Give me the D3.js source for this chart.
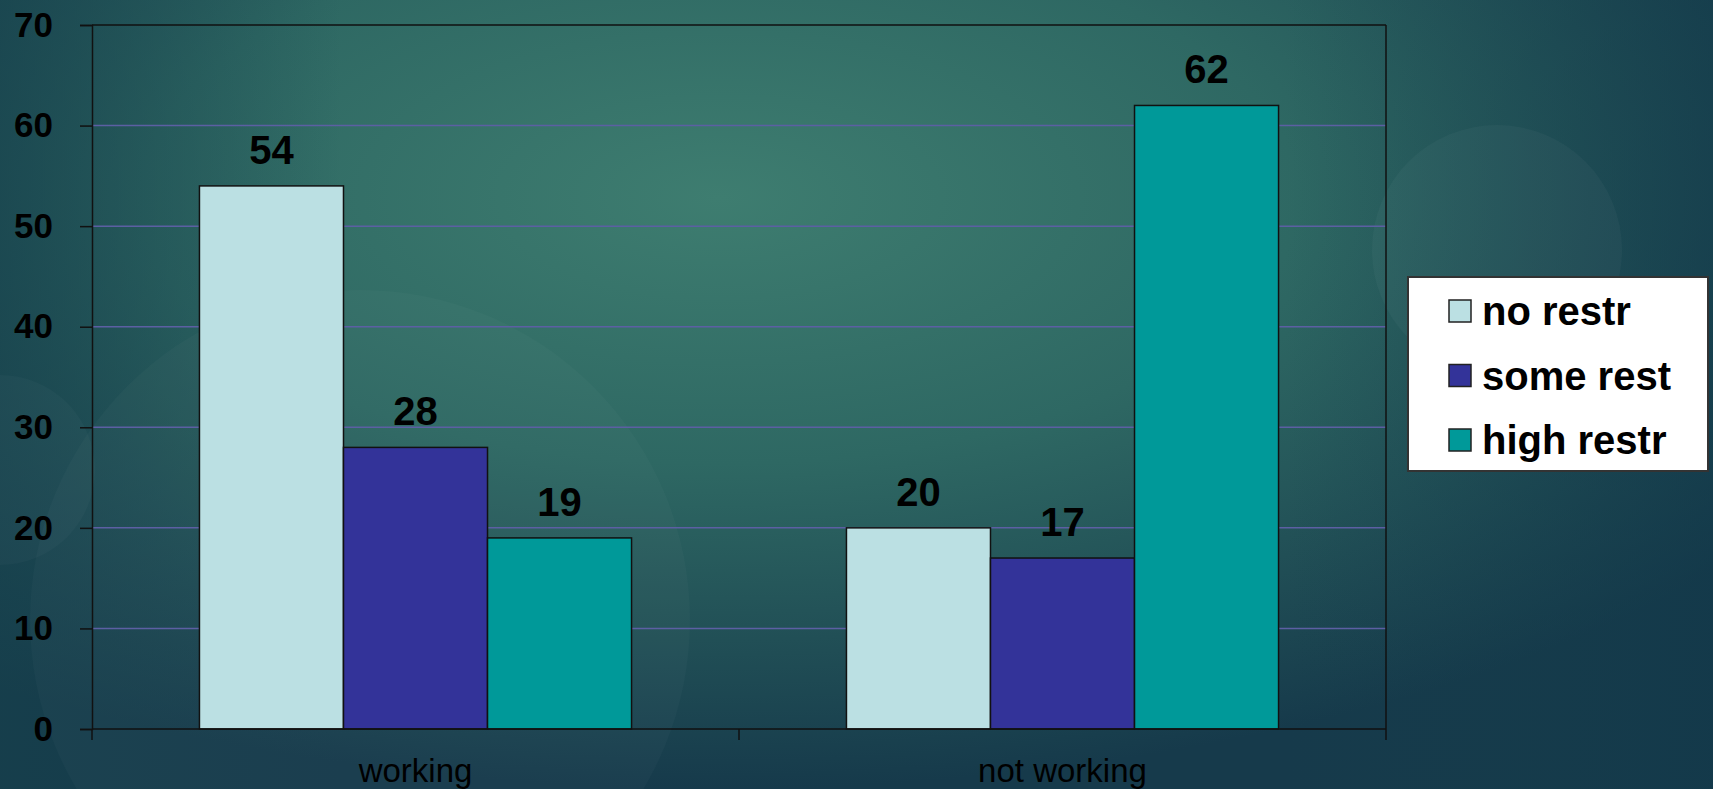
<!DOCTYPE html>
<html>
<head>
<meta charset="utf-8">
<script src="https://cdn.jsdelivr.net/npm/d3@7"></script>
<style>
  body { margin: 0; overflow: hidden; }
  svg { display: block; }
  text { font-family: "Liberation Sans", Arial, sans-serif; }
</style>
</head>
<body>
<svg id="chart"></svg>
<script>
// chart data
var categories = ["working", "not working"];
var seriesNames = ["no restr", "some rest", "high restr"];
var seriesColors = ["#bbe0e3", "#333399", "#009999"];
var noRestr = [54, 20];
var someRest = [28, 17];
var highRestr = [19, 62];
var yTicks = [0, 10, 20, 30, 40, 50, 60, 70];

var width = 1713, height = 789;
var svg = d3.select("#chart").attr("width", width).attr("height", height);

// background
var defs = svg.append("defs");
var bg = defs.append("radialGradient").attr("id", "bg")
  .attr("cx", 0.42).attr("cy", 0.25).attr("r", 0.75)
  .attr("gradientUnits", "objectBoundingBox");
bg.append("stop").attr("offset", "0%").attr("stop-color", "#3e7d70");
bg.append("stop").attr("offset", "45%").attr("stop-color", "#2e6863");
bg.append("stop").attr("offset", "100%").attr("stop-color", "#163a4b");
svg.append("rect").attr("width", width).attr("height", height).attr("fill", "url(#bg)");
var edge = defs.append("linearGradient").attr("id", "edge");
edge.append("stop").attr("offset", "0%").attr("stop-color", "#16404c").attr("stop-opacity", 0.7);
edge.append("stop").attr("offset", "20%").attr("stop-color", "#16404c").attr("stop-opacity", 0);
edge.append("stop").attr("offset", "75%").attr("stop-color", "#16404c").attr("stop-opacity", 0);
edge.append("stop").attr("offset", "100%").attr("stop-color", "#12394a").attr("stop-opacity", 0.6);
svg.append("rect").attr("width", width).attr("height", height).attr("fill", "url(#edge)");

// faint decorative circles
svg.append("circle").attr("cx", 360).attr("cy", 620).attr("r", 330)
  .attr("fill", "#ffffff").attr("opacity", 0.025);
svg.append("circle").attr("cx", 0).attr("cy", 470).attr("r", 95)
  .attr("fill", "#ffffff").attr("opacity", 0.025);
svg.append("circle").attr("cx", 1497).attr("cy", 250).attr("r", 125)
  .attr("fill", "#ffffff").attr("opacity", 0.03);

var margin = {left: 92, top: 25, right: 1386, bottom: 729};

var x0 = d3.scaleBand().domain(categories).range([margin.left, margin.right]).padding(0);
var x1 = d3.scaleBand().domain(seriesNames).range([0, x0.bandwidth()]).paddingInner(0).paddingOuter(0.746);
var y = d3.scaleLinear().domain([0, 70]).range([margin.bottom, margin.top]);

// grid lines
svg.append("g").selectAll("line").data(yTicks.filter(function(d) { return d > 0 && d < 70; }))
  .enter().append("line")
  .attr("x1", margin.left).attr("x2", margin.right)
  .attr("y1", function(d) { return y(d); }).attr("y2", function(d) { return y(d); })
  .attr("stroke", "#5c5fa3").attr("stroke-width", 1.5);

// frame (top)
svg.append("line").attr("x1", margin.left).attr("x2", margin.right)
  .attr("y1", y(70)).attr("y2", y(70)).attr("stroke", "#111").attr("stroke-width", 1.5);

// bars
var seriesValues = [noRestr, someRest, highRestr];
var rows = [];
categories.forEach(function(c, i) {
  seriesNames.forEach(function(s, j) {
    rows.push({cat: c, series: s, color: seriesColors[j], value: seriesValues[j][i]});
  });
});

var bars = svg.append("g").selectAll("g").data(rows).enter().append("g");
bars.append("rect")
  .attr("x", function(d) { return x0(d.cat) + x1(d.series); })
  .attr("y", function(d) { return y(d.value); })
  .attr("width", x1.bandwidth())
  .attr("height", function(d) { return y(0) - y(d.value); })
  .attr("fill", function(d) { return d.color; })
  .attr("stroke", "#111").attr("stroke-width", 1.5);
bars.append("text")
  .attr("x", function(d) { return x0(d.cat) + x1(d.series) + x1.bandwidth() / 2; })
  .attr("y", function(d) { return y(d.value) - 22; })
  .attr("text-anchor", "middle")
  .attr("font-size", 40).attr("font-weight", "bold").attr("fill", "#000")
  .text(function(d) { return d.value; });

// y axis
var yAxis = svg.append("g").attr("transform", "translate(" + margin.left + ",0)")
  .call(d3.axisLeft(y).tickValues(yTicks).tickSize(12).tickPadding(27));
yAxis.select(".domain").attr("stroke", "#111").attr("stroke-width", 1.5);
yAxis.selectAll(".tick line").attr("stroke", "#111").attr("stroke-width", 1.5);
yAxis.selectAll(".tick text").attr("font-size", 35).attr("font-weight", "bold")
  .attr("fill", "#000").attr("font-family", "Liberation Sans, Arial, sans-serif");

// x axis with ticks at category boundaries
var xAxis = svg.append("g").attr("transform", "translate(0," + margin.bottom + ")");
xAxis.append("line").attr("x1", margin.left).attr("x2", margin.right)
  .attr("stroke", "#111").attr("stroke-width", 1.5);
var bounds = [margin.left].concat(categories.map(function(c) { return x0(c) + x0.bandwidth(); }));
xAxis.selectAll(".bt").data(bounds).enter().append("line")
  .attr("x1", function(d) { return d; }).attr("x2", function(d) { return d; })
  .attr("y1", 0).attr("y2", 11).attr("stroke", "#111").attr("stroke-width", 1.5);
// right frame edge
svg.append("line").attr("x1", margin.right).attr("x2", margin.right)
  .attr("y1", y(70)).attr("y2", y(0)).attr("stroke", "#111").attr("stroke-width", 1.5);
xAxis.selectAll(".cl").data(categories).enter().append("text")
  .attr("x", function(d) { return x0(d) + x0.bandwidth() / 2; })
  .attr("y", 53)
  .attr("text-anchor", "middle")
  .attr("font-size", 33).attr("fill", "#000")
  .text(function(d) { return d; });

// legend
var legend = svg.append("g").attr("transform", "translate(1408,277)");
legend.append("rect").attr("width", 300).attr("height", 194)
  .attr("fill", "#ffffff").attr("stroke", "#333").attr("stroke-width", 2);
var items = legend.selectAll(".item").data(seriesNames).enter().append("g")
  .attr("transform", function(d, i) { return "translate(41," + (23 + i * 64.5) + ")"; });
items.append("rect").attr("width", 22).attr("height", 22)
  .attr("fill", function(d, i) { return seriesColors[i]; })
  .attr("stroke", "#222").attr("stroke-width", 1.5);
items.append("text").attr("x", 33).attr("y", 25)
  .attr("font-size", 40).attr("font-weight", "bold").attr("fill", "#000")
  .text(function(d) { return d; });
</script>
</body>
</html>
